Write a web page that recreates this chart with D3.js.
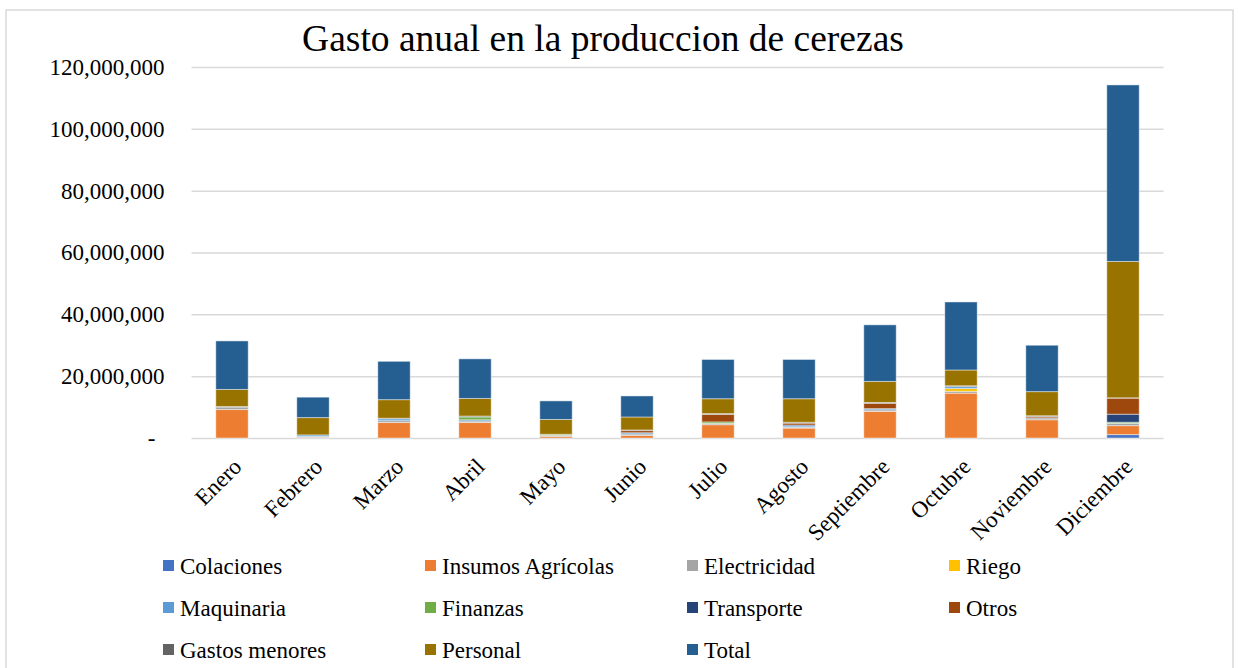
<!DOCTYPE html>
<html lang="es">
<head>
<meta charset="utf-8">
<title>Gasto anual en la produccion de cerezas</title>
<style>
    body { margin: 0; background: #fff; }
    text { font-family: "Liberation Serif", "Times New Roman", serif; fill: #000; }
    .axis path { display: none; }
    .axis line { stroke: #d9d9d9; stroke-width: 1.5px; }
</style>
</head>
<body>
<script src="https://cdn.jsdelivr.net/npm/d3@7"></script>
<script>
    // months on the x axis
    var months = ["Enero", "Febrero", "Marzo", "Abril", "Mayo", "Junio", "Julio",
        "Agosto", "Septiembre", "Octubre", "Noviembre", "Diciembre"];

    // series in stacking order (bottom to top), values in millions
    var seriesNames = ["Colaciones", "Insumos Agrícolas", "Electricidad", "Riego", "Maquinaria",
        "Finanzas", "Transporte", "Otros", "Gastos menores", "Personal", "Total"];
    var seriesColors = ["#4472c4", "#ed7d31", "#a5a5a5", "#ffc000", "#5b9bd5",
        "#70ad47", "#264478", "#9e480e", "#636363", "#997300", "#255e91"];

    var colaciones    = [0,   0,   0,   0,   0,   0,   0,   0,   0,   0,   0,   1.1];
    var insumos       = [9.2, 0.2, 5.0, 5.0, 0.5, 0.8, 4.3, 3.2, 8.6, 14.5, 5.9, 2.9];
    var electricidad  = [0.8, 0.3, 0.6, 0.5, 0.4, 0.5, 0.4, 0.3, 0.5, 0.6, 0.6, 0.7];
    var riego         = [0,   0,   0,   0,   0,   0,   0,   0,   0,   0.9, 0,   0];
    var maquinaria    = [0,   0.5, 0.6, 0.4, 0,   0.4, 0,   0.4, 0.4, 0.6, 0,   0];
    var finanzas      = [0,   0,   0,   0.9, 0.3, 0,   0.5, 0,   0,   0,   0,   0.4];
    var transporte    = [0,   0,   0,   0,   0,   0,   0,   0.3, 0,   0,   0,   2.6];
    var otros         = [0,   0,   0,   0,   0,   0.7, 2.4, 0.6, 1.7, 0,   0.4, 5.2];
    var gastosMenores = [0.2, 0,   0.2, 0.3, 0,   0.2, 0.3, 0.3, 0.3, 0.3, 0.3, 0.1];
    var personal      = [5.5, 5.6, 6.0, 5.7, 4.8, 4.2, 4.8, 7.6, 6.8, 5.1, 7.8, 44.1];

    var parts = [colaciones, insumos, electricidad, riego, maquinaria, finanzas,
        transporte, otros, gastosMenores, personal];
    // "Total" is the sum of the other series for every month
    var total = months.map(function(m, i) {
        return d3.sum(parts, function(p) { return p[i]; });
    });

    var yTicks = [0, 20e6, 40e6, 60e6, 80e6, 100e6, 120e6];

    var seriesValues = parts.concat([total]);
    var rows = months.map(function(m, i) {
        var row = { month: m };
        seriesNames.forEach(function(s, j) { row[s] = seriesValues[j][i] * 1e6; });
        return row;
    });

    var W = 1239, H = 668;
    var margin = { top: 67, left: 191.5, right: 1239 - 1163.5, bottom: 668 - 438 };
    var width = W - margin.left - margin.right,
        height = H - margin.top - margin.bottom;

    var svg = d3.select("body").append("svg")
        .attr("width", W)
        .attr("height", H);

    // outer chart frame
    svg.append("rect")
        .attr("x", 6).attr("y", 10)
        .attr("width", 1227).attr("height", 680)
        .attr("fill", "none")
        .attr("stroke", "#d9d9d9")
        .attr("stroke-width", 1.5);

    svg.append("text")
        .attr("x", 603)
        .attr("y", 51)
        .attr("text-anchor", "middle")
        .style("font-size", "37.5px")
        .text("Gasto anual en la produccion de cerezas");

    var g = svg.append("g")
        .attr("transform", "translate(" + margin.left + "," + margin.top + ")");

    var x = d3.scaleBand()
        .domain(months)
        .range([0, width])
        .paddingInner(0.6)
        .paddingOuter(0.3);

    var y = d3.scaleLinear()
        .domain([0, 120e6])
        .range([height, 0]);

    var yAxis = g.append("g")
        .attr("class", "axis")
        .call(d3.axisLeft(y)
            .tickValues(yTicks)
            .tickSize(-width)
            .tickPadding(27)
            .tickFormat(function(d) { return d === 0 ? "-" : d3.format(",")(d); }));
    yAxis.selectAll("text")
        .style("font-size", "23px");
    yAxis.selectAll(".tick")
        .filter(function(d) { return d === 0; })
        .select("text")
        .attr("x", -36);

    var stack = d3.stack().keys(seriesNames);
    var layers = stack(rows);

    var color = d3.scaleOrdinal().domain(seriesNames).range(seriesColors);

    g.selectAll(".layer")
        .data(layers)
        .enter().append("g")
        .attr("class", "layer")
        .attr("fill", function(d) { return color(d.key); })
        .selectAll("rect")
        .data(function(d) { return d; })
        .enter().append("rect")
        .attr("x", function(d) { return x(d.data.month); })
        .attr("width", x.bandwidth())
        .attr("y", function(d) { return y(d[1]); })
        .attr("height", function(d) { return Math.max(0, y(d[0]) - y(d[1])); })
        .attr("stroke", "rgba(255,255,255,0.45)")
        .attr("stroke-width", 1);

    // rotated month labels
    g.selectAll(".month")
        .data(months)
        .enter().append("text")
        .attr("class", "month")
        .attr("text-anchor", "end")
        .style("font-size", "23px")
        .attr("transform", function(d) {
            var cx = x(d) + x.bandwidth() / 2 + 11;
            return "translate(" + cx + "," + (height + 30) + ") rotate(-45)";
        })
        .text(function(d) { return d; });

    // legend, 4 columns x 3 rows
    var legend = svg.append("g");
    var item = legend.selectAll("g")
        .data(seriesNames)
        .enter().append("g")
        .attr("transform", function(d, i) {
            return "translate(" + (163 + (i % 4) * 262) + "," + (566 + Math.floor(i / 4) * 42) + ")";
        });
    item.append("rect")
        .attr("x", 0).attr("y", -6)
        .attr("width", 11).attr("height", 11)
        .attr("fill", function(d) { return color(d); });
    item.append("text")
        .attr("x", 17)
        .attr("y", 8)
        .style("font-size", "23px")
        .text(function(d) { return d; });
</script>
</body>
</html>
